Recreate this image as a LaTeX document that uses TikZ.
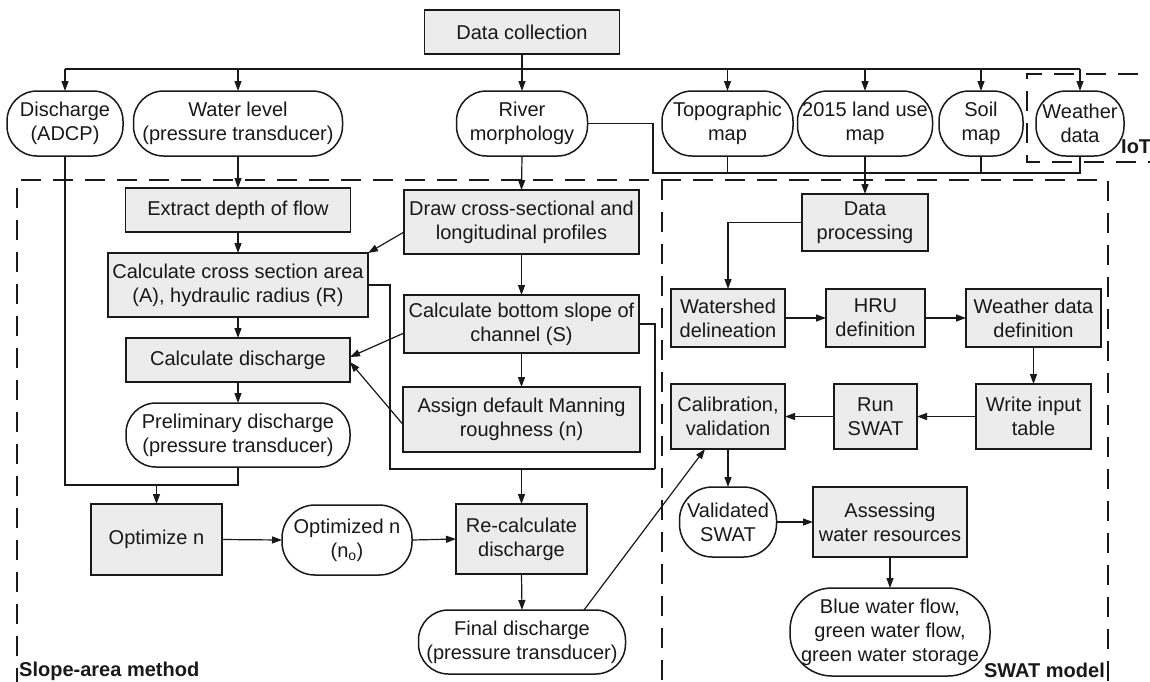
\documentclass[tikz,border=0pt]{standalone}
\usepackage{fontspec}
\setmainfont{Liberation Sans}
\usetikzlibrary{arrows.meta,calc}
\definecolor{boxgray}{RGB}{236,236,236}
\definecolor{ink}{RGB}{25,25,25}
\newcommand\dfont{\fontsize{20}{24}\selectfont}
\begin{document}
\begin{tikzpicture}[x=1pt,y=-1pt,
  box/.style={draw=ink, line width=1.6pt, fill=boxgray, inner sep=0pt, outer sep=0pt, align=center, font=\dfont, text=ink},
  term/.style={draw=ink, line width=1.5pt, fill=white, inner sep=0pt, outer sep=0pt, align=center, font=\dfont, text=ink, rounded corners=30pt, minimum height=65pt},
  conn/.style={draw=ink, line width=1.2pt},
  arr/.style={-{Triangle[length=10pt,width=7pt]}},
  dashline/.style={draw=ink, line width=2pt, dash pattern=on 20pt off 12pt},
  lab/.style={font=\fontsize{20}{24}\selectfont\bfseries, text=ink, inner sep=0pt}]
\useasboundingbox (0,0) rectangle (1150,681);
\clip (0,0) rectangle (1150,681);
\fill[white] (0,0) rectangle (1150,681);

% dashed regions
\draw[dashline] (17,720) -- (17,180) -- (1108,180) -- (1108,720);
\draw[dashline] (662,180) -- (662,720);
\draw[dashline] (1170,74) -- (1027,74) -- (1027,162) -- (1170,162);

% top
\node[box, minimum width=195pt, minimum height=44pt] (dc) at (522,32) {Data collection};
\node[term, minimum width=116pt] (dis) at (65,123.5) {Discharge\\(ADCP)};
\node[term, minimum width=209pt] (wl) at (238,123.5) {Water level\\(pressure transducer)};
\node[term, minimum width=131pt] (rm) at (522,123.5) {River\\morphology};
\node[term, minimum width=131pt] (topo) at (727.5,123.5) {Topographic\\map};
\node[term, minimum width=135pt] (land) at (865,123.5) {2015 land use\\map};
\node[term, minimum width=84pt] (soil) at (981,123.5) {Soil\\map};
\node[term, minimum width=88pt] (wea) at (1080,123.5) {Weather\\data};

% slope-area method
\node[box, minimum width=225pt, minimum height=44pt] (ext) at (238,210) {Extract depth of flow};
\node[box, minimum width=260pt, minimum height=64pt] (ccs) at (238,285) {Calculate cross section area\\(A), hydraulic radius (R)};
\node[box, minimum width=224pt, minimum height=44pt] (cdis) at (238,360) {Calculate discharge};
\node[term, minimum width=224pt, minimum height=64pt] (prel) at (238,435) {Preliminary discharge\\(pressure transducer)};
\node[box, minimum width=131pt, minimum height=71pt] (opt) at (156.5,539.5) {Optimize n};
\node[term, minimum width=130pt, minimum height=70pt, rounded corners=33pt] (optn) at (347,540) {Optimized n\\(n\textsubscript{o})};
\node[box, minimum width=131pt, minimum height=70pt] (recalc) at (521.5,539) {Re-calculate\\discharge};
\node[term, minimum width=207pt, minimum height=64pt] (final) at (522,642) {Final discharge\\(pressure transducer)};
\node[box, minimum width=235pt, minimum height=64pt] (draw) at (521.5,222) {Draw cross-sectional and\\longitudinal profiles};
\node[box, minimum width=235pt, minimum height=58pt] (slope) at (521.5,324) {Calculate bottom slope of\\channel (S)};
\node[box, minimum width=237pt, minimum height=65pt] (assign) at (521.5,419.5) {Assign default Manning\\roughness (n)};

% SWAT model
\node[box, minimum width=126pt, minimum height=57pt] (dp) at (865,222.5) {Data\\processing};
\node[box, minimum width=114pt, minimum height=58pt] (ws) at (728,318) {Watershed\\delineation};
\node[box, minimum width=99pt, minimum height=58pt] (hru) at (875.5,318) {HRU\\definition};
\node[box, minimum width=135pt, minimum height=58pt] (wdd) at (1033.5,318) {Weather data\\definition};
\node[box, minimum width=115pt, minimum height=65pt] (wit) at (1033.5,416.5) {Write input\\table};
\node[box, minimum width=83pt, minimum height=65pt] (run) at (875.5,416.5) {Run\\SWAT};
\node[box, minimum width=114pt, minimum height=65pt] (cal) at (728,416.5) {Calibration,\\validation};
\node[term, minimum width=97pt, minimum height=70pt, rounded corners=33pt] (val) at (728,522) {Validated\\SWAT};
\node[box, minimum width=154pt, minimum height=70pt] (ass) at (890,522) {Assessing\\water resources};
\node[term, minimum width=200pt, minimum height=88pt, rounded corners=42pt] (blue) at (890,632) {Blue water flow,\\green water flow,\\green water storage};

% labels
\node[lab, anchor=base west] (sal) at (19,676) {Slope-area method};
\node[lab, anchor=base east] (swl) at (1105,677) {SWAT model};
\node[lab, anchor=base west] (iotl) at (1121,153) {IoT};

% coordinates
\coordinate (bus) at (0,69);
\coordinate (dq) at (0,485);
\coordinate (j1) at (390,469);
\coordinate (j2) at (655,469);
\coordinate (mj) at (653,173);

% bus connectors
\draw[conn] (dc.south) -- (dc.south |- bus);
\draw[conn] (dis.north |- bus) -- (wea.north |- bus);
\foreach \n in {dis,wl,rm,topo,land,soil,wea}
  \draw[conn,arr] (\n.north |- bus) -- (\n.north);

% slope-area connectors
\draw[conn] (dis.south) -- (dis.south |- dq) -| (prel.south);
\draw[conn,arr] (opt.north |- dq) -- (opt.north);
\draw[conn,arr] (wl.south) -- (ext.north);
\draw[conn,arr] (ext.south) -- (ccs.north);
\draw[conn,arr] (ccs.south) -- (cdis.north);
\draw[conn,arr] (cdis.south) -- (prel.north);
\draw[conn,arr] ($(draw.west)+(0,10)$) -- (ccs.north east);
\draw[conn,arr] ($(slope.west)+(0,9)$) -- ($(cdis.east)+(0,-3)$);
\draw[conn,arr] ($(assign.west)+(0,5)$) -- ($(cdis.east)+(0,2)$);
\draw[conn] (ccs.east) -| (j1) -- (j2);
\draw[conn] (slope.east) -| (j2);
\draw[conn,arr] (recalc.north |- j1) -- (recalc.north);
\draw[conn,arr] (rm.south) -- (draw.north);
\draw[conn,arr] (draw.south) -- (slope.north);
\draw[conn,arr] (slope.south) -- (assign.north);
\draw[conn,arr] (opt.east) -- (optn.west);
\draw[conn,arr] (optn.east) -- (recalc.west);
\draw[conn,arr] (recalc.south) -- (final.north);
\draw[conn,arr] ($(final.north)+(62,0)$) -- ($(cal.south)+(-23,0)$);

% SWAT connectors
\draw[conn] (rm.east) -| (mj) -- (wea.south |- mj) -- (wea.south);
\draw[conn] (topo.south) -- (topo.south |- mj);
\draw[conn] (soil.south) -- (soil.south |- mj);
\draw[conn,arr] (land.south) -- (dp.north);
\draw[conn,arr] (dp.west) -| (ws.north);
\draw[conn,arr] (ws.east) -- (hru.west);
\draw[conn,arr] (hru.east) -- (wdd.west);
\draw[conn,arr] (wdd.south) -- (wit.north);
\draw[conn,arr] (wit.west) -- (run.east);
\draw[conn,arr] (run.west) -- (cal.east);
\draw[conn,arr] (cal.south) -- (val.north);
\draw[conn,arr] (val.east) -- (ass.west);
\draw[conn,arr] (ass.south) -- (blue.north);
\end{tikzpicture}
\end{document}
